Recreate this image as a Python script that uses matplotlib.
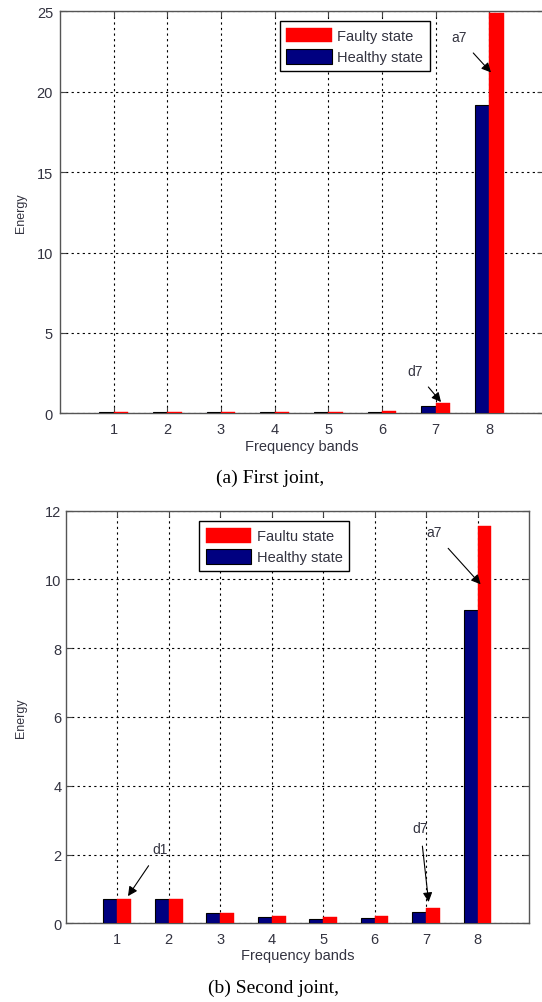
import matplotlib
matplotlib.use("Agg")
import matplotlib.pyplot as plt
import numpy as np

bands = [1, 2, 3, 4, 5, 6, 7, 8]
healthy_a = [0.05, 0.05, 0.05, 0.06, 0.06, 0.06, 0.47, 19.2]
faulty_a = [0.05, 0.05, 0.06, 0.08, 0.08, 0.16, 0.62, 24.9]
healthy_b = [0.70, 0.72, 0.29, 0.18, 0.12, 0.15, 0.33, 9.1]
faulty_b = [0.70, 0.72, 0.29, 0.22, 0.19, 0.22, 0.45, 11.55]
yticks_a = [0, 5, 10, 15, 20, 25]
yticks_b = [0, 2, 4, 6, 8, 10, 12]
legend_a = ["Faulty state", "Healthy state"]
legend_b = ["Faultu state", "Healthy state"]
caption_a = "(a) First joint,"
caption_b = "(b) Second joint,"

W, H = 542, 1003
fig = plt.figure(figsize=(W / 100, H / 100), dpi=100)
plt.rcParams['font.family'] = ['Liberation Sans', 'DejaVu Sans']

TXT = '#333340'
NAVY = '#000080'
RED = '#FF0000'


def px_axes(l, t, r, b):
    return fig.add_axes([l / W, (H - b) / H, (r - l) / W, (b - t) / H])


def draw(ax, box, healthy, faulty, yticks, ylim, labels, leg_anchor, notes,
         xlab_y, caption, cap_xy, ytick_pad):
    l, t, r, b = box
    x = np.array(bands)
    bw = 0.27
    hb = ax.bar(x - bw / 2, healthy, width=bw, color=NAVY, edgecolor='black', linewidth=0.8, zorder=3)
    fb = ax.bar(x + bw / 2, faulty, width=bw, color=RED, edgecolor=RED, linewidth=0.3, zorder=3)
    ax.set_xlim(0, 9)
    ax.set_ylim(*ylim)
    ax.set_xticks(bands)
    ax.set_yticks(yticks)
    ax.tick_params(direction='in', length=4, colors='#444444', labelcolor=TXT, labelsize=10.5)
    ax.tick_params(axis='y', pad=ytick_pad)
    ax.tick_params(axis='x', pad=6)
    ax.tick_params(top=True, right=True)
    for s in ax.spines.values():
        s.set_color('#555555')
        s.set_linewidth(1.0)
    ax.grid(True, color='black', linestyle=(0, (2, 3)), linewidth=0.8, zorder=1)
    ax.set_axisbelow(True)
    leg = ax.legend([fb, hb], labels, loc='upper left', bbox_to_anchor=leg_anchor,
                    fancybox=False, edgecolor='black', framealpha=1, fontsize=10.5,
                    handlelength=3.1, handleheight=1.2, handletextpad=0.4,
                    borderpad=0.45, labelspacing=0.4, borderaxespad=0)
    leg.get_frame().set_linewidth(1.0)
    for tx in leg.get_texts():
        tx.set_color(TXT)
    for (txt, xy, xytext) in notes:
        ax.annotate(txt, xy=xy, xytext=xytext, ha='center', va='center', fontsize=10,
                    color=TXT, zorder=5,
                    arrowprops=dict(arrowstyle='-|>', color='black', lw=0.8,
                                    mutation_scale=14, shrinkA=6, shrinkB=0))
    ax.set_ylabel('Energy', fontsize=9, color=TXT, va='center')
    ax.yaxis.set_label_coords((21 - l) / (r - l), 0.5)
    ax.set_xlabel('Frequency bands', fontsize=10.5, color=TXT, va='center')
    ax.xaxis.set_label_coords(0.5, -(xlab_y - b) / (b - t))
    fig.text(cap_xy[0] / W, 1 - cap_xy[1] / H, caption, ha='center', va='center',
             fontsize=14, family=['Liberation Serif', 'DejaVu Serif'], color='black')


box_a = (60, 12.3, 543, 414.3)
ax1 = px_axes(*box_a)
draw(ax1, box_a, healthy_a, faulty_a, yticks_a, (0, 25), legend_a, (0.455, 0.976),
     [("a7", (8.03, 21.2), (7.43, 23.4)), ("d7", (7.1, 0.7), (6.61, 2.64))],
     447.5, caption_a, (270, 478), 5)

box_b = (65.7, 511.7, 529, 924.3)
ax2 = px_axes(*box_b)
draw(ax2, box_b, healthy_b, faulty_b, yticks_b, (0, 12), legend_b, (0.288, 0.975),
     [("a7", (8.06, 9.86), (7.15, 11.37)), ("d1", (1.21, 0.79), (1.83, 2.16)),
      ("d7", (7.05, 0.62), (6.89, 2.77))],
     956, caption_b, (274, 988), 3)

fig.savefig('out.png', dpi=100)
